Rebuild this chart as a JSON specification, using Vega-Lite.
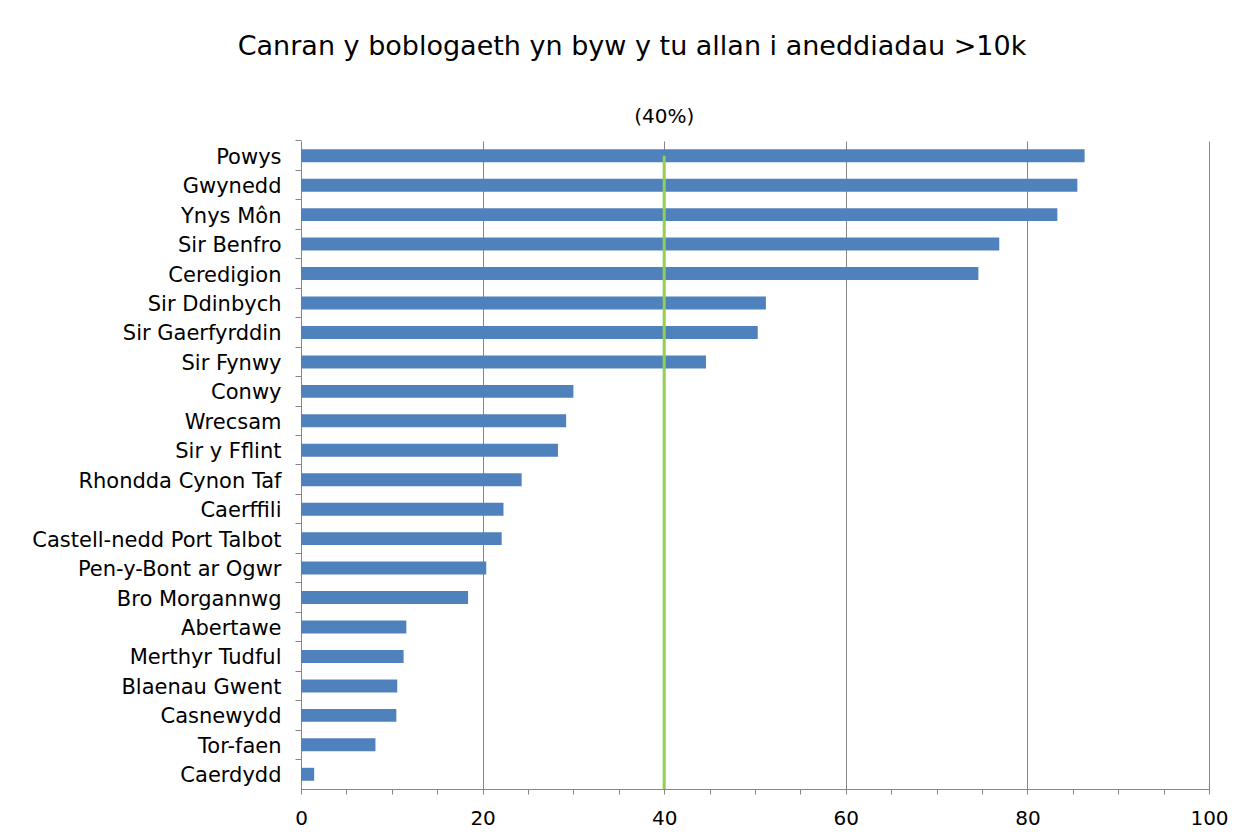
{
  "$schema": "https://vega.github.io/schema/vega-lite/v6.json",
  "width": 908,
  "height": 648,
  "autosize": "none",
  "padding": {"left": 301, "top": 141, "right": 44, "bottom": 50},
  "background": "white",
  "title": {
    "text": "Canran y boblogaeth yn byw y tu allan i aneddiadau >10k",
    "font": "DejaVu Sans",
    "fontSize": 27,
    "fontWeight": "normal",
    "color": "#000000",
    "anchor": "middle",
    "dx": -123,
    "offset": 25,
    "baseline": "alphabetic"
  },
  "config": {
    "font": "DejaVu Sans",
    "view": {"stroke": null},
    "axis": {"labelFont": "DejaVu Sans", "labelFontSize": 20, "labelColor": "#000000", "labelLimit": 400}
  },
  "datasets": {
    "regions": [
      {"region": "Powys", "pct": 86.3},
      {"region": "Gwynedd", "pct": 85.5},
      {"region": "Ynys Môn", "pct": 83.3},
      {"region": "Sir Benfro", "pct": 76.9},
      {"region": "Ceredigion", "pct": 74.6},
      {"region": "Sir Ddinbych", "pct": 51.2},
      {"region": "Sir Gaerfyrddin", "pct": 50.3},
      {"region": "Sir Fynwy", "pct": 44.6},
      {"region": "Conwy", "pct": 30.0},
      {"region": "Wrecsam", "pct": 29.2},
      {"region": "Sir y Fflint", "pct": 28.3},
      {"region": "Rhondda Cynon Taf", "pct": 24.3},
      {"region": "Caerffili", "pct": 22.3},
      {"region": "Castell-nedd Port Talbot", "pct": 22.1},
      {"region": "Pen-y-Bont ar Ogwr", "pct": 20.4},
      {"region": "Bro Morgannwg", "pct": 18.4},
      {"region": "Abertawe", "pct": 11.6},
      {"region": "Merthyr Tudful", "pct": 11.3},
      {"region": "Blaenau Gwent", "pct": 10.6},
      {"region": "Casnewydd", "pct": 10.5},
      {"region": "Tor-faen", "pct": 8.2},
      {"region": "Caerdydd", "pct": 1.45}
    ],
    "threshold": [
      {"value": 40, "label": "(40%)", "from": "Powys"}
    ]
  },
  "layer": [
    {
      "data": {"name": "regions"},
      "mark": {"type": "bar", "color": "#4F81BD"},
      "encoding": {
        "y": {
          "field": "region",
          "type": "nominal",
          "sort": null,
          "scale": {"paddingInner": 0.56, "paddingOuter": 0.28},
          "axis": {
            "title": null,
            "labelFontSize": 21,
            "labelPadding": 14,
            "labelOffset": 2,
            "tickSize": 6,
            "tickColor": "#868686",
            "domainColor": "#868686",
            "bandPosition": -0.6364,
            "grid": false
          }
        },
        "x": {
          "field": "pct",
          "type": "quantitative",
          "scale": {"domain": [0, 100], "nice": false},
          "axis": {
            "title": null,
            "values": [0, 5, 10, 15, 20, 25, 30, 35, 40, 45, 50, 55, 60, 65, 70, 75, 80, 85, 90, 95, 100],
            "labelExpr": "datum.value % 20 === 0 ? datum.label : ''",
            "labelFlush": false,
            "labelPadding": 14,
            "tickSize": 5,
            "tickColor": "#868686",
            "domainColor": "#868686",
            "grid": true,
            "gridColor": "#868686",
            "gridOpacity": {"condition": {"test": "datum.value % 20 === 0", "value": 1}, "value": 0}
          }
        }
      }
    },
    {
      "data": {"name": "threshold"},
      "mark": {"type": "rule", "color": "#92D050", "strokeWidth": 3},
      "encoding": {
        "x": {"field": "value", "type": "quantitative"},
        "y": {"field": "from", "type": "nominal", "sort": null},
        "y2": {"value": {"expr": "height"}}
      }
    },
    {
      "data": {"name": "threshold"},
      "mark": {"type": "text", "fontSize": 20, "color": "#000000", "dy": -39, "baseline": "middle", "align": "center"},
      "encoding": {
        "x": {"field": "value", "type": "quantitative"},
        "y": {"field": "from", "type": "nominal", "sort": null},
        "text": {"field": "label"}
      }
    }
  ]
}
